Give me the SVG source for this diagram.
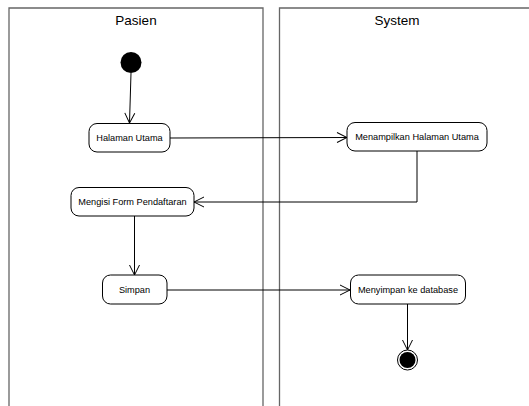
<svg xmlns="http://www.w3.org/2000/svg" width="529" height="406" viewBox="0 0 529 406">
<style>
.lane{fill:none;stroke:#666;stroke-width:1.3}
.title{font-family:"Liberation Sans",Arial,sans-serif;font-size:13.5px;fill:#000;text-anchor:middle}
.act{fill:#fff;stroke:#000;stroke-width:1}
.lbl{font-family:"Liberation Sans",Arial,sans-serif;font-size:9.2px;fill:#000;text-anchor:middle;dominant-baseline:central}
.edge{fill:none;stroke:#000;stroke-width:1;marker-end:url(#open)}
</style>
<defs>
<marker id="open" viewBox="0 0 12 12" refX="11" refY="6" markerWidth="12" markerHeight="12" markerUnits="userSpaceOnUse" orient="auto">
<path d="M1,1 L11,6 L1,11" fill="none" stroke="#000" stroke-width="1"/>
</marker>
</defs>
<g id="lane-pasien">
<path class="lane" d="M9,406 V8 H263 V406"/>
<text class="title" x="136" y="25">Pasien</text>
</g>
<g id="lane-system">
<path class="lane" d="M279.5,406 V8 H529"/>
<text class="title" x="397" y="25">System</text>
</g>
<g id="connectors">
<path class="edge" d="M131,73 L129.5,123"/>
<path class="edge" d="M170,138 L347,137.5"/>
<path class="edge" d="M417,151 V202 H194"/>
<path class="edge" d="M134.5,216 V275"/>
<path class="edge" d="M167,290 H350"/>
<path class="edge" d="M407.5,304 V350"/>
</g>
<g id="start">
<circle cx="131" cy="62.5" r="10.5" fill="#000"/>
</g>
<g id="halaman-utama">
<rect class="act" x="89" y="123.5" width="81" height="28.5" rx="8"/>
<text class="lbl" x="129.5" y="138">Halaman Utama</text>
</g>
<g id="menampilkan">
<rect class="act" x="347" y="122.5" width="140" height="28.5" rx="8"/>
<text class="lbl" x="417" y="137">Menampilkan Halaman Utama</text>
</g>
<g id="mengisi-form">
<rect class="act" x="71" y="187.5" width="123" height="28.5" rx="8"/>
<text class="lbl" x="132.5" y="202">Mengisi Form Pendaftaran</text>
</g>
<g id="simpan">
<rect class="act" x="102.5" y="275" width="64.5" height="29" rx="8"/>
<text class="lbl" x="134.5" y="290">Simpan</text>
</g>
<g id="menyimpan">
<rect class="act" x="350.5" y="275" width="115" height="29" rx="8"/>
<text class="lbl" x="408" y="290">Menyimpan ke database</text>
</g>
<g id="end">
<circle cx="407.5" cy="360" r="10" fill="#fff" stroke="#000" stroke-width="1"/>
<circle cx="407.5" cy="360" r="8" fill="#000"/>
</g>
</svg>
